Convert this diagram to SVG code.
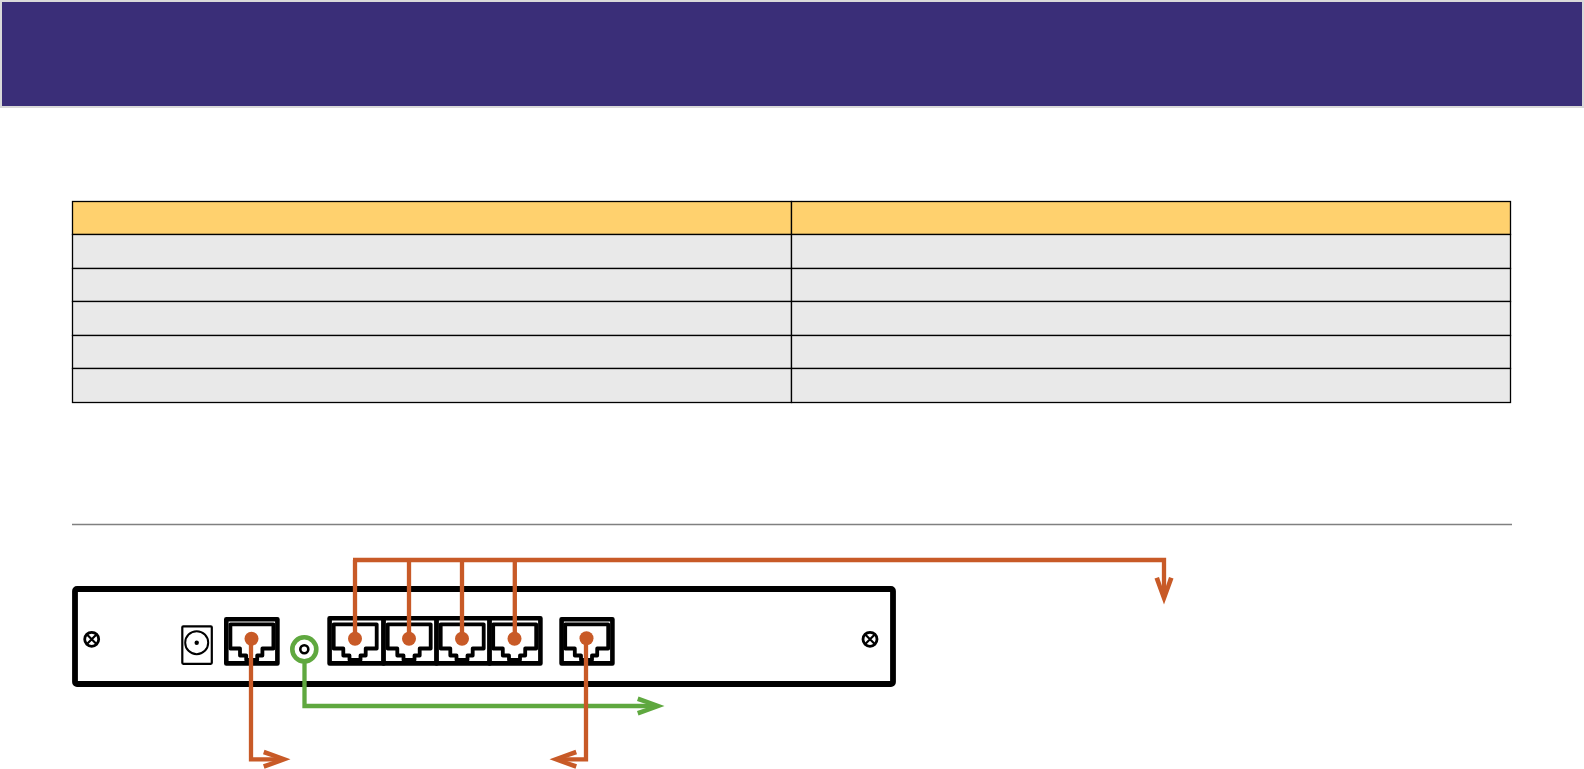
<svg xmlns="http://www.w3.org/2000/svg" width="1584" height="769" viewBox="0 0 1584 769">
<style>
.cell{stroke:#000;stroke-width:1.3}
.hd{fill:#ffd16e}
.row{fill:#e9e9e9}
.o{fill:none;stroke:#c85a27;stroke-width:4.3}
.g{fill:none;stroke:#5fa83f;stroke-width:4.3}
.dot{fill:#c85a27}
.pf{fill:#fff;stroke:#000;stroke-width:4.6;stroke-linejoin:round}
.pi{fill:none;stroke:#000;stroke-width:3.8;stroke-linejoin:round}
.sc{fill:none;stroke:#000;stroke-width:2.8}
.sx{fill:none;stroke:#000;stroke-width:2.2}
</style>
<defs>
<g id="jack"><path class="pi" d="M-21.3-14.2H21.7V10H10.7V17H5.5V21.5H-5.5V17H-11.7V10H-21.3Z"/></g>
<g id="screw"><circle class="sc" r="7"/><path class="sx" d="M-5-5L5 5M-5 5L5-5"/></g>
<marker id="ao" markerUnits="userSpaceOnUse" markerWidth="30" markerHeight="22" refX="20" refY="11" orient="auto" overflow="visible"><path fill="#c85a27" d="M28 11L2 1.5L.5 6L15.5 11L.5 16L2 20.5Z"/></marker>
<marker id="ag" markerUnits="userSpaceOnUse" markerWidth="30" markerHeight="22" refX="20" refY="11" orient="auto" overflow="visible"><path fill="#5fa83f" d="M28 11L2 1.5L.5 6L15.5 11L.5 16L2 20.5Z"/></marker>
</defs>
<g id="banner"><rect x="1" y="1" width="1582" height="106" fill="#3a2e78" stroke="#d9d9d9" stroke-width="2"/></g>
<g id="table">
<rect class="cell hd" x="72.5" y="201.5" width="719" height="33"/><rect class="cell hd" x="791.5" y="201.5" width="719" height="33"/>
<rect class="cell row" x="72.5" y="234.5" width="719" height="34"/><rect class="cell row" x="791.5" y="234.5" width="719" height="34"/>
<rect class="cell row" x="72.5" y="268.5" width="719" height="33"/><rect class="cell row" x="791.5" y="268.5" width="719" height="33"/>
<rect class="cell row" x="72.5" y="301.5" width="719" height="34"/><rect class="cell row" x="791.5" y="301.5" width="719" height="34"/>
<rect class="cell row" x="72.5" y="335.5" width="719" height="33"/><rect class="cell row" x="791.5" y="335.5" width="719" height="33"/>
<rect class="cell row" x="72.5" y="368.5" width="719" height="34"/><rect class="cell row" x="791.5" y="368.5" width="719" height="34"/>
</g>
<g id="separator"><path d="M72 524.5H1512" stroke="#808080" stroke-width="1.5" fill="none"/></g>
<g id="device"><rect x="75" y="589" width="818" height="95" rx="2" fill="#fff" stroke="#000" stroke-width="5.8" stroke-linejoin="round"/>
<use href="#screw" x="91.7" y="639.3"/><use href="#screw" x="870" y="639.3"/></g>
<g id="power"><rect x="182.3" y="626.3" width="29.5" height="37.5" rx="1" fill="#fff" stroke="#000" stroke-width="2.2"/><circle cx="196.7" cy="642.7" r="11.5" fill="none" stroke="#000" stroke-width="2"/><circle cx="196.7" cy="642.7" r="2.2" fill="#000"/></g>
<g id="port-1"><rect class="pf" x="226.3" y="619.3" width="51.1" height="44.1"/><use href="#jack" x="251.7" y="638.5"/></g>
<g id="port-group">
<rect class="pf" x="329.6" y="618.3" width="54" height="45.1"/><rect class="pf" x="383.6" y="618.3" width="53" height="45.1"/><rect class="pf" x="436.6" y="618.3" width="53" height="45.1"/><rect class="pf" x="489.6" y="618.3" width="50.8" height="45.1"/>
<use href="#jack" x="355" y="638.5"/><use href="#jack" x="409" y="638.5"/><use href="#jack" x="462" y="638.5"/><use href="#jack" x="514.5" y="638.5"/>
</g>
<g id="port-2"><rect class="pf" x="561.6" y="619.3" width="50.8" height="44.1"/><use href="#jack" x="586.5" y="638.5"/></g>
<g id="coax"><circle cx="304.3" cy="649.3" r="12" fill="#fff" stroke="#5fa83f" stroke-width="4.6"/><circle cx="304.3" cy="649.3" r="4" fill="none" stroke="#000" stroke-width="2.6"/></g>
<g id="connectors">
<path class="g" d="M304.5 662V706H656.5" marker-end="url(#ag)"/>
<path class="o" d="M353 560H1164V596.5" marker-end="url(#ao)"/>
<path class="o" d="M355 560V639M409 560V639M462 560V639M514.8 560V639"/>
<path class="o" d="M251 639V759.3H282.5" marker-end="url(#ao)"/>
<path class="o" d="M586 639V759.3H557.5" marker-end="url(#ao)"/>
<circle class="dot" cx="251.5" cy="638.7" r="7"/><circle class="dot" cx="355" cy="638.7" r="7"/><circle class="dot" cx="409" cy="638.7" r="7"/><circle class="dot" cx="462" cy="638.7" r="7"/><circle class="dot" cx="514.5" cy="638.7" r="7"/><circle class="dot" cx="586.5" cy="638.3" r="7"/>
</g>
</svg>
